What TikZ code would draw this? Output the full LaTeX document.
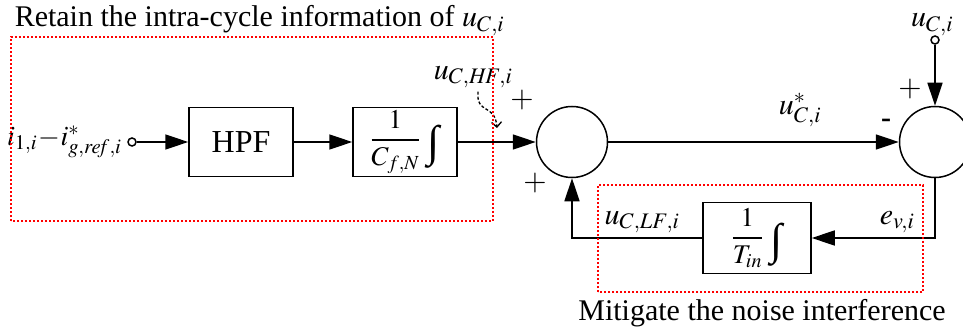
\documentclass[tikz,border=0pt]{standalone}
\usepackage{mathptmx}
\usepackage{fontspec}
\setmainfont{Liberation Serif}
\usepackage{tikz}
\usetikzlibrary{arrows.meta,calc,positioning}
\definecolor{zonered}{HTML}{FF0000}
\newcommand{\bigint}{\hspace{7pt}\raisebox{-10pt}{\fontsize{44}{44}\selectfont ∫}}

\begin{document}
\begin{tikzpicture}[x=1pt, y=1pt, line width=1.5pt,
    blk/.style={draw, minimum width=104pt, minimum height=69pt, inner sep=0pt,
      font=\fontsize{27}{32}\selectfont},
    sumc/.style={draw, circle, minimum size=71pt, inner sep=0pt},
    term/.style={draw, circle, minimum size=8pt, inner sep=0pt, fill=white},
    lbl/.style={font=\fontsize{30}{34}\selectfont, inner sep=0pt},
    arr/.style={-{Triangle[length=23pt,width=15pt]}},
    hint/.style={-{Straight Barb[length=5pt,width=10pt]}, line width=1.3pt, dash pattern=on 3pt off 2pt},
    zone/.style={draw=zonered, line width=1.5pt, dash pattern=on 2pt off 2pt}]
\useasboundingbox (0,0) rectangle (963,335);
% forward path
\node[term] (vin) at (132,193) {};
\node[lbl, font=\fontsize{28}{32}\selectfont, left=5pt of vin] (vinlbl) {$i_{1,i}\!-\!i^{*}_{g,\mathit{ref},i}$};
\node[blk] (hpf) at (241,193) {\fontsize{32}{36}\selectfont HPF};
\node[blk] (intc) at (405,193) {$\displaystyle\frac{1}{C_{f,N}}$\bigint};
\node[sumc] (sumA) at (572,193) {};
\node[sumc] (sumB) at (935,193) {};
\node[term] (vc) at (935,295) {};
\node[lbl, anchor=base] (vclbl) at (932,308) {$u_{C,i}$};
% feedback path
\node[blk, minimum width=108pt, minimum height=71pt] (intf) at (757,97) {$\displaystyle\frac{1}{T_{in}}$\bigint};
\draw[arr] (vin) -- (hpf);
\draw[arr] (hpf) -- (intc);
\draw[arr] (intc) -- (sumA);
\draw[arr] (sumA) -- node[lbl, pos=0.66, above=14pt] (ustar) {$u^{*}_{C,i}$} (sumB);
\draw[arr] (vc) -- (sumB);
\draw[arr] (sumB) |- (intf);
\draw[arr] (intf) -| (sumA);
\node[lbl] (ev) at (897,113) {$e_{v,i}$};
\node[lbl] (ulf) at (642,113) {$u_{C,\mathit{LF},i}$};
% signs
\foreach \n/\p in {a/{(522,235)}, b/{(535,152)}, c/{(910,246)}} {
  \node[lbl] (sg\n) at \p {$+$};
}
\node[lbl] (sgd) at (886,212) {\textbf{-}};
% high-frequency tap
\node[lbl] (uhf) at (473,258) {$u_{C,\mathit{HF},i}$};
\coordinate (hfend) at (497,207);
\draw[hint] ([xshift=5pt,yshift=-3pt]uhf.south) .. controls (476,220) and (495,232) .. (hfend);
% zones
\draw[zone] (11,114) rectangle (493,298);
\draw[zone] (598,43) rectangle (923,150);
\node[lbl, anchor=base west] (ttlA) at (14,308) {Retain the intra-cycle information of $u_{C,i}$};
\node[lbl, anchor=base] (ttlB) at (762,15) {Mitigate the noise interference};
\end{tikzpicture}
\end{document}
